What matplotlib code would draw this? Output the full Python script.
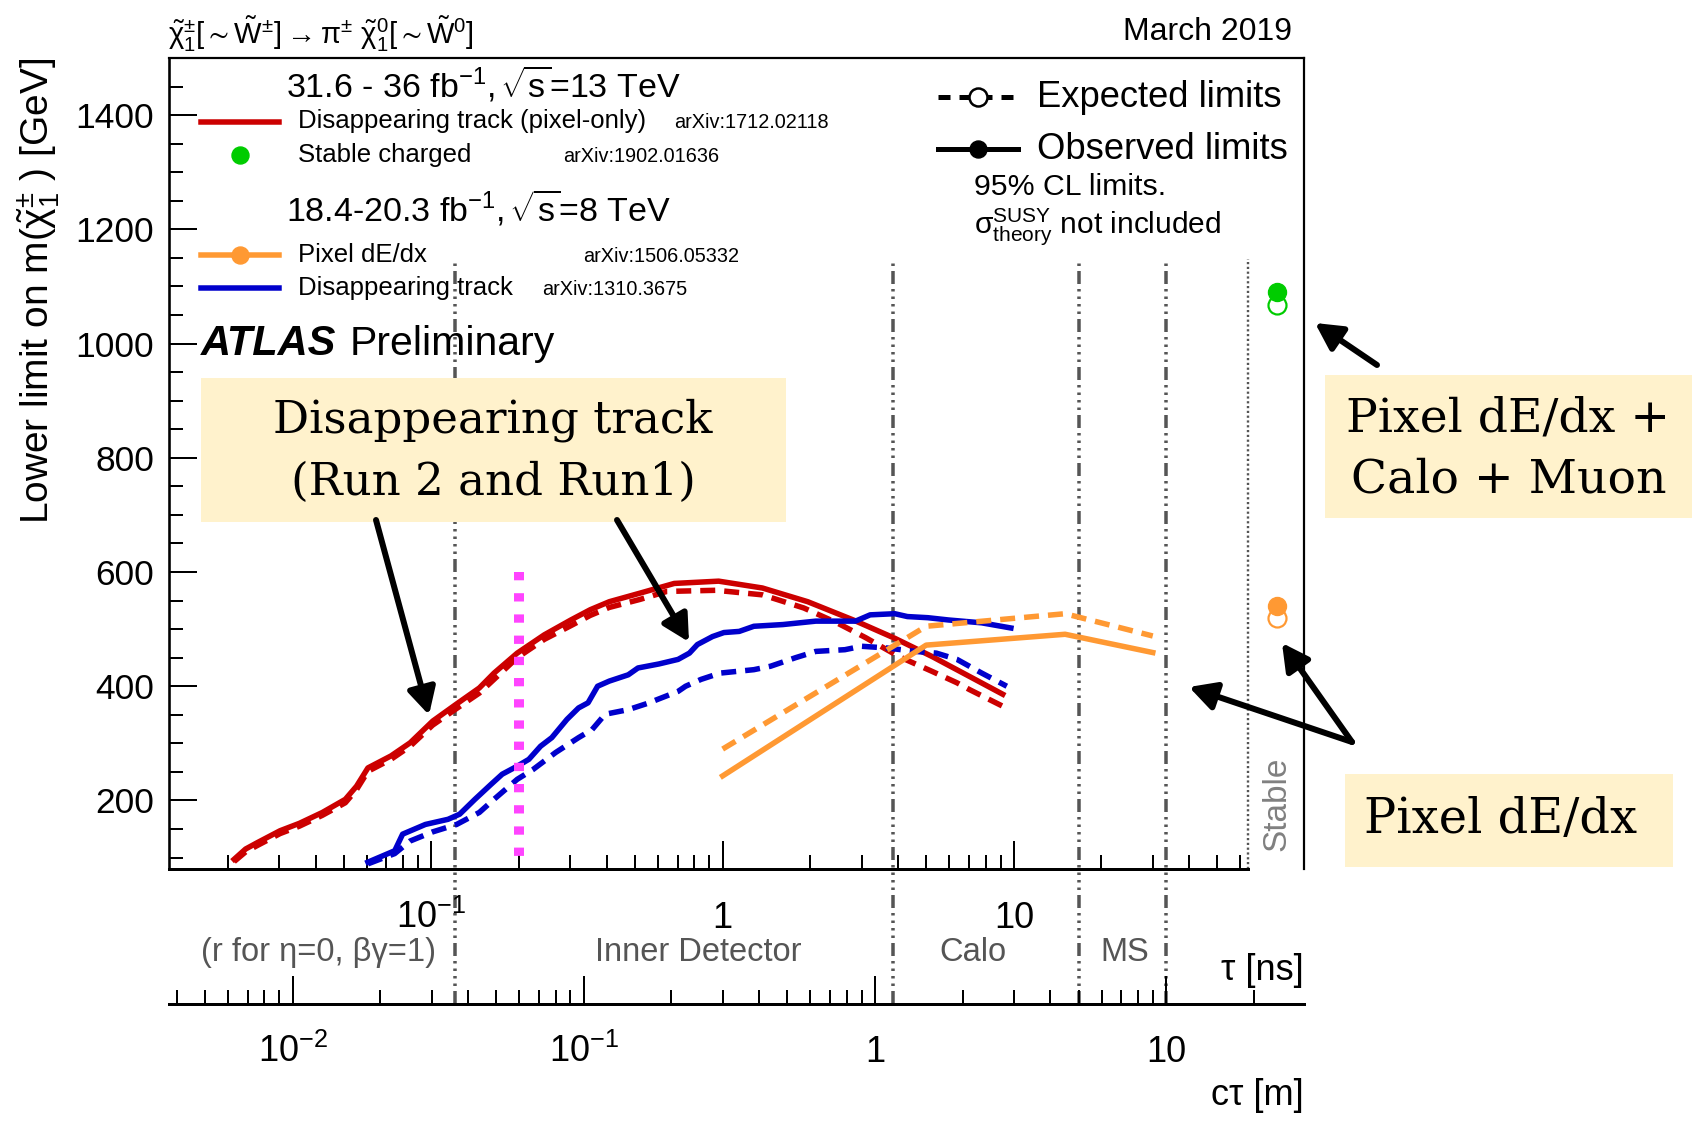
import matplotlib
matplotlib.use('Agg')
import matplotlib.pyplot as plt
import matplotlib.transforms as mtransforms
from matplotlib.lines import Line2D
from matplotlib.patches import Rectangle, FancyArrowPatch
from matplotlib.ticker import FixedLocator, NullFormatter

plt.rcParams['font.family'] = ['Liberation Sans', 'DejaVu Sans']
plt.rcParams['mathtext.fontset'] = 'custom'
plt.rcParams['mathtext.rm'] = 'Liberation Sans'
plt.rcParams['mathtext.it'] = 'Liberation Sans:italic'
plt.rcParams['mathtext.bf'] = 'Liberation Sans:bold'
plt.rcParams['mathtext.default'] = 'regular'
plt.rcParams['lines.scale_dashes'] = False

W, H = 1692, 1121
C_LIGHT = 0.299792458  # m per ns

# --- limits: lifetime tau [ns] vs lower mass limit [GeV] ---
red_obs_tau = [0.0210, 0.0230, 0.0252, 0.0302, 0.0352, 0.0422, 0.0506, 0.0553, 0.0605, 0.0726,
               0.0845, 0.101, 0.122, 0.146, 0.164, 0.197, 0.244, 0.301, 0.351, 0.408,
               0.520, 0.682, 0.969, 1.37, 1.96, 2.81, 3.90, 5.24, 7.05, 9.16]
red_obs_m = [97, 115, 126, 147, 160, 179, 202, 225, 257, 278,
             301, 339, 369, 397, 423, 458, 490, 516, 534, 548,
             563, 580, 584, 572, 548, 516, 484, 452, 417, 386]

red_exp_tau = [0.0210, 0.0230, 0.0252, 0.0302, 0.0352, 0.0422, 0.0506, 0.0553, 0.0605, 0.0726,
               0.0845, 0.101, 0.122, 0.146, 0.164, 0.197, 0.244, 0.301, 0.351, 0.408,
               0.520, 0.643, 0.95, 1.37, 1.90, 2.47, 3.10, 4.03, 5.24, 6.38, 7.05, 9.16]
red_exp_m = [93, 110, 121, 142, 155, 174, 196, 219, 251, 272,
             295, 332, 361, 388, 412, 450, 482, 506, 524, 538,
             552, 566, 568, 560, 537, 511, 485, 452, 426, 406, 394, 365]

blue_obs_tau = [0.0605, 0.0748, 0.0796, 0.0953, 0.114, 0.125, 0.141, 0.160, 0.175, 0.197,
                0.216, 0.237, 0.259, 0.292, 0.320, 0.345, 0.372, 0.408, 0.474, 0.512,
                0.604, 0.703, 0.769, 0.819, 0.923, 1.01, 1.14, 1.28, 1.61, 2.09,
                2.86, 3.21, 3.90, 4.31, 5.07, 5.97, 7.76, 9.77]
blue_obs_m = [92, 112, 141, 158, 167, 176, 202, 228, 246, 260,
              272, 295, 310, 342, 362, 371, 400, 409, 420, 432,
              439, 447, 458, 473, 487, 494, 496, 505, 508, 514,
              514, 525, 527, 522, 520, 516, 511, 502]

blue_exp_tau = [0.0605, 0.0748, 0.0845, 0.101, 0.122, 0.146, 0.164, 0.197, 0.223, 0.267,
                0.320, 0.356, 0.395, 0.474, 0.552, 0.703, 0.746, 0.843, 0.980, 1.28,
                1.46, 1.78, 2.09, 2.63, 3.00, 3.66, 4.59, 5.42, 6.38, 7.76, 9.46]
blue_exp_m = [89, 107, 129, 145, 158, 179, 202, 237, 254, 284,
              310, 324, 351, 359, 370, 391, 400, 412, 423, 429,
              435, 450, 461, 464, 470, 467, 461, 458, 447, 423, 400]

pix_tau = [1, 5, 15, 30]
pix_obs_m = [243, 472, 491, 459]
pix_exp_m = [290, 505, 527, 488]

# stable particles, drawn in the "Stable" column
STABLE_TAU = 80
stable_obs = {'charged': 1090, 'pixel': 540}
stable_exp = {'charged': 1068, 'pixel': 520}

# detector boundaries in c*tau [m], and the tau=0.2 ns marker line
det_bounds_ctau = [0.036, 1.15, 5.0, 10.0]
MARK_TAU = 0.2
MARK_SPAN = [600, 100]

TAU_LO, TAU_HI = 0.01255, 99.2
TAU_AXIS_END = 63.5
tau_major = [0.1, 1, 10]
tau_labels = ['$10^{-1}$', '1', '10']
ctau_major = [0.01, 0.1, 1, 10]
ctau_labels = ['$10^{-2}$', '$10^{-1}$', '1', '10']
regions = ['(r for η=0, βγ=1)', 'Inner Detector', 'Calo', 'MS']

RED, BLUE, ORANGE, GREEN, MAGENTA = '#cc0000', '#0000cc', '#ff9933', '#00cc00', '#ff44ff'
GREY = '#555555'
BOX = '#fff2cc'


def pt(px):
    return px * 0.72


def fpos(x, y):
    return x / W, 1 - y / H


fig = plt.figure(figsize=(W / 100, H / 100), dpi=100)
AX_L, AX_R, AX_T, AX_B = 169, 1304, 58, 869
ax = fig.add_axes([AX_L / W, 1 - AX_B / H, (AX_R - AX_L) / W, (AX_B - AX_T) / H])
ax.set_xscale('log')
ax.set_xlim(TAU_LO, TAU_HI)
ax.set_ylim(80, 1500)

for s in ax.spines.values():
    s.set_linewidth(pt(2.2))
ax.spines['bottom'].set_bounds(TAU_LO, TAU_AXIS_END)
ax.spines['bottom'].set_linewidth(pt(3))
ax.spines['left'].set_linewidth(pt(2.6))

tau_minor = [k * 10.0 ** e for e in range(-2, 2) for k in range(2, 10)
             if TAU_LO <= k * 10.0 ** e <= TAU_AXIS_END]
ax.xaxis.set_major_locator(FixedLocator(tau_major))
ax.xaxis.set_minor_locator(FixedLocator(tau_minor))
ax.xaxis.set_major_formatter(NullFormatter())
ax.xaxis.set_minor_formatter(NullFormatter())
ax.tick_params(axis='x', which='major', direction='in', length=pt(28), width=pt(2), top=False)
ax.tick_params(axis='x', which='minor', direction='in', length=pt(14), width=pt(2), top=False)
ax.yaxis.set_major_locator(FixedLocator(range(200, 1401, 200)))
ax.yaxis.set_minor_locator(FixedLocator(range(100, 1501, 50)))
ax.tick_params(axis='y', which='major', direction='in', length=pt(28), width=pt(2),
               right=False, labelsize=25.5, pad=pt(15))
ax.tick_params(axis='y', which='minor', direction='in', length=pt(14), width=pt(2), right=False)

# curves
dash = (0, (pt(15), pt(9)))
lw = pt(5.5)
ax.plot(red_exp_tau, red_exp_m, color=RED, lw=lw, ls=dash, zorder=4)
ax.plot(red_obs_tau, red_obs_m, color=RED, lw=lw, zorder=4)
ax.plot(blue_exp_tau, blue_exp_m, color=BLUE, lw=lw, ls=dash, zorder=4)
ax.plot(blue_obs_tau, blue_obs_m, color=BLUE, lw=lw, zorder=4)
ax.plot(pix_tau, pix_exp_m, color=ORANGE, lw=lw, ls=dash, zorder=4)
ax.plot(pix_tau, pix_obs_m, color=ORANGE, lw=lw, zorder=4)

# stable points: open = expected, filled = observed
for key, col in [('charged', GREEN), ('pixel', ORANGE)]:
    ax.plot([STABLE_TAU], [stable_exp[key]], marker='o', ms=pt(18), mfc='white', mec=col,
            mew=pt(2.2), ls='none', zorder=5, clip_on=False)
    ax.plot([STABLE_TAU], [stable_obs[key]], marker='o', ms=pt(18), mfc=col, mec=col,
            ls='none', zorder=6, clip_on=False)

# tau = 0.2 ns marker
ax.plot([MARK_TAU, MARK_TAU], MARK_SPAN, color=MAGENTA, lw=pt(10),
        ls=(0, (pt(8.3), pt(12.9))), solid_capstyle='butt', dash_capstyle='butt', zorder=6)

# detector boundaries, running down through the lifetime axes
y_top = (AX_B - 259) / (AX_B - AX_T)
y_bot = (AX_B - 1003.5) / (AX_B - AX_T)
ddot = (0, (pt(13), pt(5), pt(2.5), pt(5), pt(2.5), pt(5), pt(2.5), pt(5), pt(2.5), pt(5)))
for b in det_bounds_ctau:
    ax.axvline(b / C_LIGHT, ymin=y_bot, ymax=y_top, color=GREY, lw=pt(3.5), ls=ddot,
               clip_on=False, zorder=2)
ax.axvline(TAU_AXIS_END, ymin=0, ymax=y_top, color=GREY, lw=pt(2.4),
           ls=(0, (pt(2.2), pt(2.6))), zorder=2)

xfig = mtransforms.blended_transform_factory(ax.transData, fig.transFigure)
ax.text(STABLE_TAU, 1 - 851 / H, 'Stable', transform=xfig, rotation=90, ha='center',
        va='bottom', fontsize=24, color='#808080')

# tau tick labels and detector region names
for v, lab in zip(tau_major, tau_labels):
    ax.text(v, 1 - 928 / H, lab, transform=xfig, ha='center', va='baseline', fontsize=26,
            clip_on=False)
for (x, lab) in zip([318, 698, 973, 1125], regions):
    fig.text(x / W, 1 - 961 / H, lab, ha='center', va='baseline', fontsize=23.5, color=GREY)
fig.text(1304 / W, 1 - 980 / H, 'τ [ns]', ha='right', va='baseline', fontsize=26)

# c*tau axis underneath
ax2 = fig.add_axes([AX_L / W, 1 - 1003.5 / H, (AX_R - AX_L) / W, 1e-4])
ax2.set_xscale('log')
ax2.set_xlim(TAU_LO * C_LIGHT, TAU_HI * C_LIGHT)
for s in ['top', 'left', 'right']:
    ax2.spines[s].set_visible(False)
ax2.spines['bottom'].set_linewidth(pt(3))
ax2.patch.set_visible(False)
ax2.set_yticks([])
lo2, hi2 = ax2.get_xlim()
ctau_minor = [k * 10.0 ** e for e in range(-3, 2) for k in range(2, 10)
              if lo2 <= k * 10.0 ** e <= hi2]
ax2.xaxis.set_major_locator(FixedLocator(ctau_major))
ax2.xaxis.set_minor_locator(FixedLocator(ctau_minor))
ax2.xaxis.set_major_formatter(NullFormatter())
ax2.xaxis.set_minor_formatter(NullFormatter())
ax2.tick_params(axis='x', which='major', direction='in', length=pt(28), width=pt(2))
ax2.tick_params(axis='x', which='minor', direction='in', length=pt(14), width=pt(2))
xfig2 = mtransforms.blended_transform_factory(ax2.transData, fig.transFigure)
for v, lab in zip(ctau_major, ctau_labels):
    ax2.text(v, 1 - 1062 / H, lab, transform=xfig2, ha='center', va='baseline', fontsize=26,
             clip_on=False)
fig.text(1304 / W, 1 - 1105 / H, 'cτ [m]', ha='right', va='baseline', fontsize=26)

# y title
fig.text(50 / W, 1 - 58 / H, r'Lower limit on m($\tilde{\chi}^{\pm}_{1}$ ) [GeV]', rotation=90,
         rotation_mode='anchor', ha='right', va='baseline', fontsize=28)

# header
fig.text(168 / W, 1 - 44 / H,
         r'$\tilde{\chi}^{\pm}_{1}[\sim\tilde{W}^{\pm}] \rightarrow \pi^{\pm}\ \tilde{\chi}^{0}_{1}[\sim\tilde{W}^{0}]$',
         ha='left', va='baseline', fontsize=21)
fig.text(1292 / W, 1 - 40 / H, 'March 2019', ha='right', va='baseline', fontsize=23)


def fig_line(x0, x1, y, **kw):
    fig.add_artist(Line2D([x0 / W, x1 / W], [1 - y / H] * 2, transform=fig.transFigure, **kw))


def fig_dot(x, y, **kw):
    fig.add_artist(Line2D([x / W], [1 - y / H], transform=fig.transFigure, marker='o', ls='none', **kw))


# left legend block
fig.text(286 / W, 1 - 97 / H, r'31.6 - 36 fb$^{-1}$, $\!\sqrt{s}$=13 TeV', fontsize=24.5, va='baseline')
fig_line(201, 279, 122, color=RED, lw=lw)
fig.text(298 / W, 1 - 128 / H, 'Disappearing track (pixel-only)', fontsize=18.5, va='baseline')
fig.text(674 / W, 1 - 128 / H, 'arXiv:1712.02118', fontsize=14.3, va='baseline')
fig_dot(240, 155, ms=pt(17), color=GREEN)
fig.text(298 / W, 1 - 162 / H, 'Stable charged', fontsize=18.5, va='baseline')
fig.text(563 / W, 1 - 162 / H, 'arXiv:1902.01636', fontsize=14.3, va='baseline')
fig.text(286 / W, 1 - 222 / H, r'18.4-20.3 fb$^{-1}$, $\!\sqrt{s}$=8 TeV', fontsize=24.5, va='baseline')
fig_line(201, 279, 255, color=ORANGE, lw=lw)
fig_dot(240, 255, ms=pt(17), color=ORANGE)
fig.text(298 / W, 1 - 262 / H, 'Pixel dE/dx', fontsize=18.5, va='baseline')
fig.text(583 / W, 1 - 262 / H, 'arXiv:1506.05332', fontsize=14.3, va='baseline')
fig_line(201, 279, 288, color=BLUE, lw=lw)
fig.text(298 / W, 1 - 295 / H, 'Disappearing track', fontsize=18.5, va='baseline')
fig.text(542 / W, 1 - 295 / H, 'arXiv:1310.3675', fontsize=14.3, va='baseline')
fig.text(201 / W, 1 - 355 / H, 'ATLAS', fontsize=30, fontweight='bold', fontstyle='italic', va='baseline')
fig.text(350 / W, 1 - 355 / H, 'Preliminary', fontsize=29.5, va='baseline')

# right legend block
fig_line(938, 1018, 97, color='black', lw=pt(5), ls=(0, (pt(12), pt(9))))
fig_dot(978, 97, ms=pt(18), mfc='white', mec='black', mew=pt(2.5))
fig.text(1037 / W, 1 - 107 / H, 'Expected limits', fontsize=26.2, va='baseline')
fig_line(938, 1018, 149, color='black', lw=pt(5))
fig_dot(978, 149, ms=pt(17), color='black')
fig.text(1037 / W, 1 - 159 / H, 'Observed limits', fontsize=26.2, va='baseline')
fig.text(974 / W, 1 - 195 / H, '95% CL limits.', fontsize=21.8, va='baseline')
fig.text(974 / W, 1 - 233 / H, r'$\sigma^{SUSY}_{theory}$ not included', fontsize=21.5, va='baseline')

# call-out boxes
serif = ['DejaVu Serif']
for (x0, y0, x1, y1) in [(201, 378, 786, 522), (1325, 375, 1692, 518), (1345, 774, 1673, 867)]:
    fig.add_artist(Rectangle(fpos(x0, y1), (x1 - x0) / W, (y1 - y0) / H, transform=fig.transFigure,
                             facecolor=BOX, edgecolor='none', zorder=3))
for (x, y, s, fs) in [(493, 432, 'Disappearing track', 32.5), (493, 495, '(Run 2 and Run1)', 32.5),
                      (1508, 432, 'Pixel dE/dx +', 34), (1509, 492, 'Calo + Muon', 34),
                      (1501, 833, 'Pixel dE/dx', 34.5)]:
    fig.text(x / W, 1 - y / H, s, ha='center', va='baseline', fontsize=fs, family=serif, zorder=4)

for (x0, y0, x1, y1) in [(376, 520, 429, 715), (617, 520, 689, 642), (1377, 365, 1315, 323),
                         (1352, 742, 1189, 687), (1352, 742, 1282, 643)]:
    fig.add_artist(FancyArrowPatch(fpos(x0, y0), fpos(x1, y1), transform=fig.transFigure,
                                   arrowstyle='-|>,head_length=16,head_width=8.5', mutation_scale=1,
                                   lw=pt(6), color='black', shrinkA=0, shrinkB=0, zorder=5))

fig.savefig('out.png', dpi=100, facecolor='white')
